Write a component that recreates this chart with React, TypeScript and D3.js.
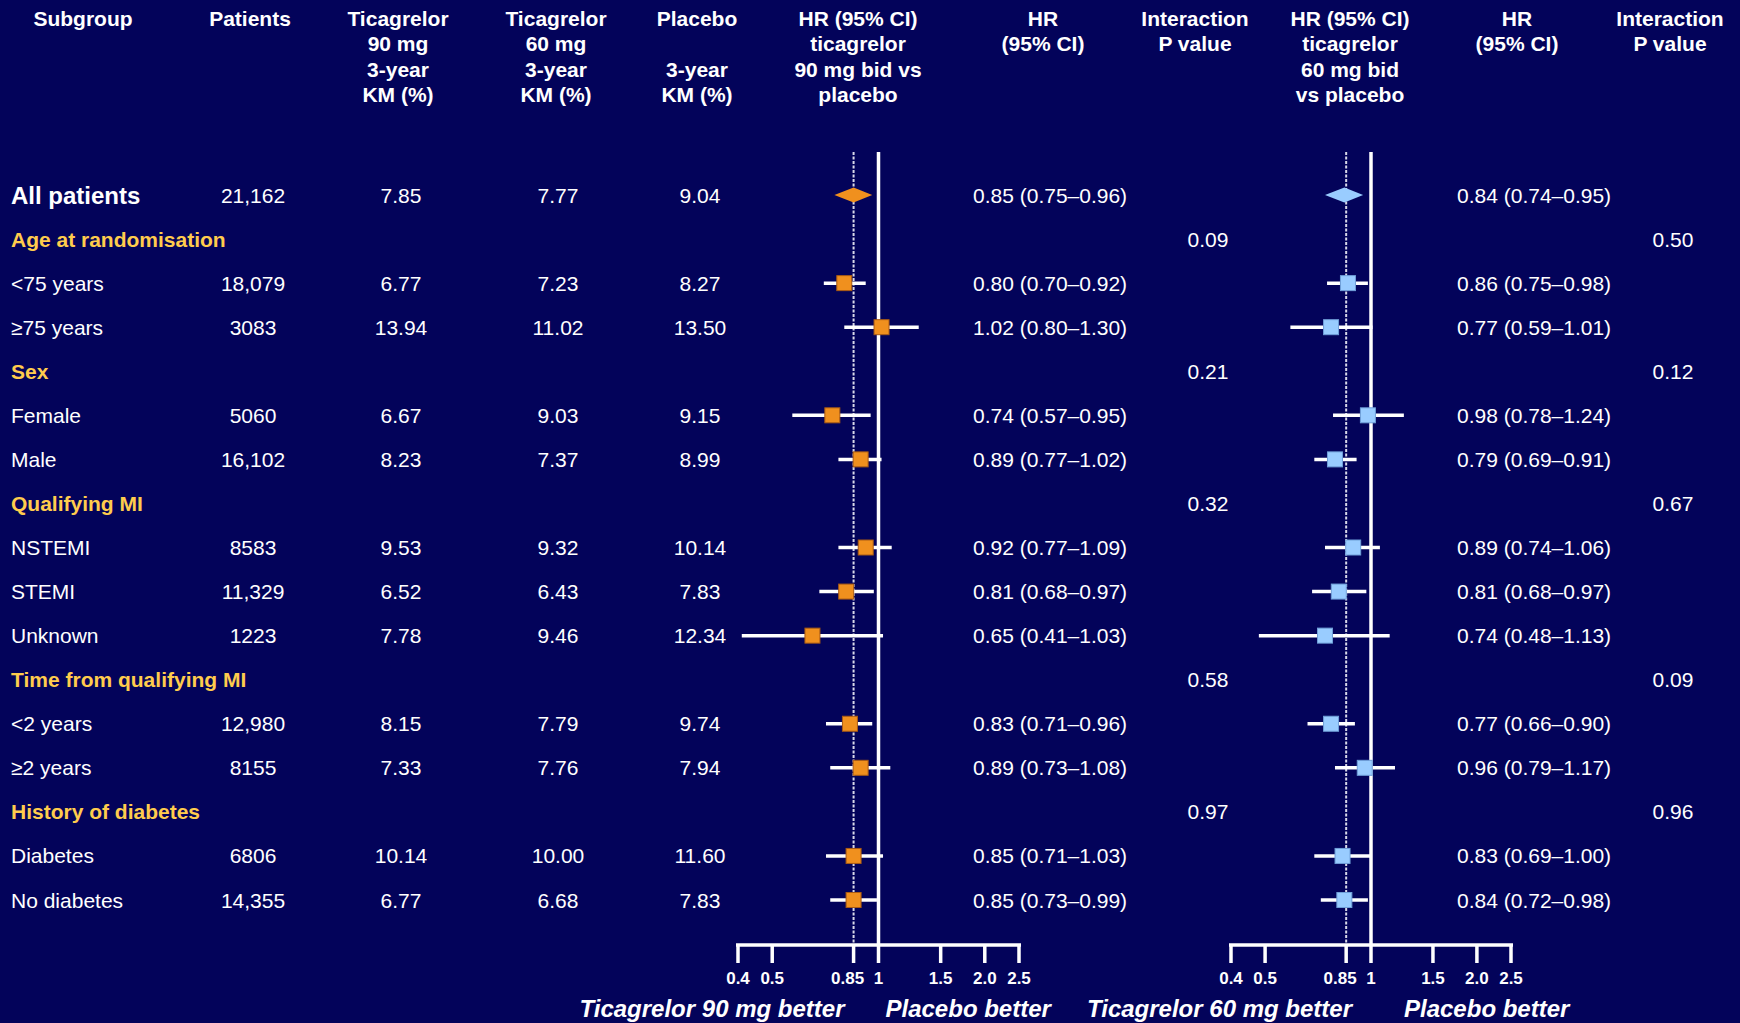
import React, { useEffect } from "react";
import * as d3 from "d3";

// subgroup rows, top to bottom
const labels = [
  "All patients", "Age at randomisation", "<75 years", "≥75 years", "Sex", "Female", "Male",
  "Qualifying MI", "NSTEMI", "STEMI", "Unknown", "Time from qualifying MI", "<2 years", "≥2 years",
  "History of diabetes", "Diabetes", "No diabetes",
];
// "total" | "group" | "item"
const kinds = [
  "total", "group", "item", "item", "group", "item", "item",
  "group", "item", "item", "item", "group", "item", "item",
  "group", "item", "item",
];
const patients = ["21,162", "", "18,079", "3083", "", "5060", "16,102", "", "8583", "11,329", "1223", "", "12,980", "8155", "", "6806", "14,355"];
const km90 = ["7.85", "", "6.77", "13.94", "", "6.67", "8.23", "", "9.53", "6.52", "7.78", "", "8.15", "7.33", "", "10.14", "6.77"];
const km60 = ["7.77", "", "7.23", "11.02", "", "9.03", "7.37", "", "9.32", "6.43", "9.46", "", "7.79", "7.76", "", "10.00", "6.68"];
const kmPlacebo = ["9.04", "", "8.27", "13.50", "", "9.15", "8.99", "", "10.14", "7.83", "12.34", "", "9.74", "7.94", "", "11.60", "7.83"];

// HR [point, lower, upper], null on group header rows
const hr90: (number[] | null)[] = [
  [0.85, 0.75, 0.96], null, [0.80, 0.70, 0.92], [1.02, 0.80, 1.30], null, [0.74, 0.57, 0.95], [0.89, 0.77, 1.02],
  null, [0.92, 0.77, 1.09], [0.81, 0.68, 0.97], [0.65, 0.41, 1.03], null, [0.83, 0.71, 0.96], [0.89, 0.73, 1.08],
  null, [0.85, 0.71, 1.03], [0.85, 0.73, 0.99],
];
const hr60: (number[] | null)[] = [
  [0.84, 0.74, 0.95], null, [0.86, 0.75, 0.98], [0.77, 0.59, 1.01], null, [0.98, 0.78, 1.24], [0.79, 0.69, 0.91],
  null, [0.89, 0.74, 1.06], [0.81, 0.68, 0.97], [0.74, 0.48, 1.13], null, [0.77, 0.66, 0.90], [0.96, 0.79, 1.17],
  null, [0.83, 0.69, 1.00], [0.84, 0.72, 0.98],
];
const pInt90 = ["", "0.09", "", "", "0.21", "", "", "0.32", "", "", "", "0.58", "", "", "0.97", "", ""];
const pInt60 = ["", "0.50", "", "", "0.12", "", "", "0.67", "", "", "", "0.09", "", "", "0.96", "", ""];

const tickValues = [0.4, 0.5, 0.85, 1, 1.5, 2.0, 2.5];
const tickLabels = ["0.4", "0.5", "0.85", "1", "1.5", "2.0", "2.5"];

const headers = {
  subgroup: ["Subgroup"],
  patients: ["Patients"],
  t90: ["Ticagrelor", "90 mg", "3-year", "KM (%)"],
  t60: ["Ticagrelor", "60 mg", "3-year", "KM (%)"],
  placebo: ["Placebo", "", "3-year", "KM (%)"],
  plot90: ["HR (95% CI)", "ticagrelor", "90 mg bid vs", "placebo"],
  hrText: ["HR", "(95% CI)"],
  pInt: ["Interaction", "P value"],
  plot60: ["HR (95% CI)", "ticagrelor", "60 mg bid", "vs placebo"],
};

const W = 1740;
const H = 1023;
const BG = "#03035a";
const GOLD = "#ffcc4d";
const ORANGE = "#f0901e";
const BLUE = "#99ccff";
const FONT = "'Liberation Sans', Arial, sans-serif";

const fmt = (v: number[]) => {
  const f = (n: number) => n.toFixed(2);
  return `${f(v[0])} (${f(v[1])}–${f(v[2])})`;
};

const Forest = ({ x, y, data, fill, stroke, axisY, lines, betterLeft, betterRight }) => {
  const [lo, hi] = x.range();
  return (
    <g>
      {/* reference lines */}
      <line x1={x(0.85)} x2={x(0.85)} y1={152} y2={axisY} stroke="#d8d8e8" strokeWidth={2} strokeDasharray="3,1.5" />
      <line x1={x(1)} x2={x(1)} y1={152} y2={axisY + 18} stroke="white" strokeWidth={3.5} />
      {data.map((d, i) => {
        if (!d) return null;
        const cy = y(i);
        if (kinds[i] === "total") {
          const pts = [[x(d[1]), cy], [x(d[0]), cy - 7.5], [x(d[2]), cy], [x(d[0]), cy + 7.5]];
          return <path key={i} d={d3.line()(pts as any) + "Z"} fill={fill} />;
        }
        return (
          <g key={i}>
            <line x1={x(d[1])} x2={x(d[2])} y1={cy} y2={cy} stroke="white" strokeWidth={3.5} />
            <rect x={x(d[0]) - 7.5} y={cy - 7.5} width={15} height={15} fill={fill} stroke={stroke} strokeWidth={1} />
          </g>
        );
      })}
      {/* axis */}
      <line x1={lo - 2} x2={hi + 2} y1={axisY} y2={axisY} stroke="white" strokeWidth={3.5} />
      {tickValues.map((t, i) => (
        <g key={t}>
          {t !== 1 && <line x1={x(t)} x2={x(t)} y1={axisY} y2={axisY + 18} stroke="white" strokeWidth={3.5} />}
          <text x={x(t) + (t === 0.85 ? -6 : 0)} y={axisY + 39} textAnchor="middle" fill="white"
            fontWeight="bold" fontSize={17} fontFamily={FONT}>{tickLabels[i]}</text>
        </g>
      ))}
      <text x={x(1) + betterLeft} y={1017} textAnchor="end" fill="white" fontWeight="bold" fontStyle="italic"
        fontSize={24} fontFamily={FONT}>{lines[0]}</text>
      <text x={x(1) + betterRight} y={1017} textAnchor="start" fill="white" fontWeight="bold" fontStyle="italic"
        fontSize={24} fontFamily={FONT}>{lines[1]}</text>
    </g>
  );
};

const App = () => {
  useEffect(() => {
    document.body.style.margin = "0";
    document.body.style.background = BG;
  }, []);

  const y = d3.scalePoint<number>().domain(d3.range(labels.length)).range([195, 900]);
  const x90 = d3.scaleLog().domain([0.4, 2.5]).range([738, 1019]);
  const x60 = d3.scaleLog().domain([0.4, 2.5]).range([1231, 1511]);
  const axisY = 945;

  const headerCols: [string[], number][] = [
    [headers.subgroup, 83], [headers.patients, 250], [headers.t90, 398], [headers.t60, 556],
    [headers.placebo, 697], [headers.plot90, 858], [headers.hrText, 1043], [headers.pInt, 1195],
    [headers.plot60, 1350], [headers.hrText, 1517], [headers.pInt, 1670],
  ];

  const numCols: [string[], number][] = [
    [patients, 253], [km90, 401], [km60, 558], [kmPlacebo, 700], [pInt90, 1208], [pInt60, 1673],
  ];

  return (
    <svg width={W} height={H} style={{ position: "fixed", left: 0, top: 0, display: "block" }}>
      <rect width={W} height={H} fill={BG} />
      <g fontFamily={FONT} fill="white">
        {headerCols.map(([lines, cx], ci) => (
          <text key={ci} x={cx} textAnchor="middle" fontWeight="bold" fontSize={21}>
            {lines.map((l, li) => (
              <tspan key={li} x={cx} y={26 + li * 25.3}>{l}</tspan>
            ))}
          </text>
        ))}
        {labels.map((l, i) => (
          <text key={l} x={11} y={y(i)} dy="0.36em"
            fill={kinds[i] === "group" ? GOLD : "white"}
            fontWeight={kinds[i] === "item" ? "normal" : "bold"}
            fontSize={kinds[i] === "total" ? 24 : 21}>{l}</text>
        ))}
        {numCols.map(([vals, cx], ci) =>
          vals.map((v, i) => v && (
            <text key={`${ci}-${i}`} x={cx} y={y(i)} dy="0.36em" textAnchor="middle" fontSize={21}>{v}</text>
          ))
        )}
        {hr90.map((d, i) => d && (
          <text key={`h90-${i}`} x={973} y={y(i)} dy="0.36em" fontSize={21}>{fmt(d)}</text>
        ))}
        {hr60.map((d, i) => d && (
          <text key={`h60-${i}`} x={1457} y={y(i)} dy="0.36em" fontSize={21}>{fmt(d)}</text>
        ))}
      </g>
      <Forest x={x90} y={y} data={hr90} fill={ORANGE} stroke="#a85a14" axisY={axisY}
        lines={["Ticagrelor 90 mg better", "Placebo better"]} betterLeft={-34} betterRight={7} />
      <Forest x={x60} y={y} data={hr60} fill={BLUE} stroke="#6f9fd8" axisY={axisY}
        lines={["Ticagrelor 60 mg better", "Placebo better"]} betterLeft={-19} betterRight={33} />
    </svg>
  );
};

export default App;
